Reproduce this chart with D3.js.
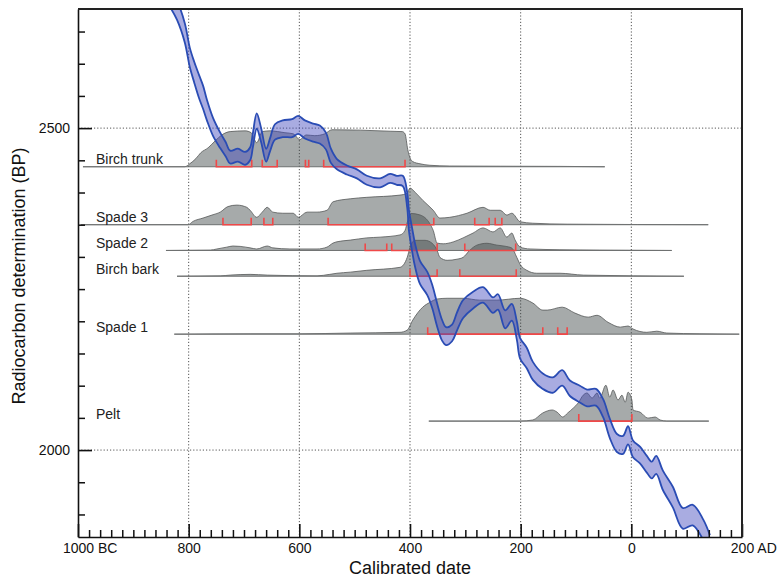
<!DOCTYPE html>
<html lang="en">
<head>
<meta charset="UTF-8">
<title>Radiocarbon calibration</title>
<script src="https://d3js.org/d3.v7.min.js"></script>
<style>
    body {
        margin: 0;
        background: #fff;
        font-family: "Liberation Sans", Arial, sans-serif;
    }
</style>
</head>
<body>
<div id="chart"></div>
<script>
    // samples: name, measured radiocarbon age (BP) = baseline of each distribution
    const sampleNames = ["Birch trunk", "Spade 3", "Spade 2", "Birch bark", "Spade 1", "Pelt"];
    const sampleBP = [2440, 2350, 2310, 2270, 2180, 2045];

    // calibrated probability, [calendar year, relative density]
    const birchTrunkProb = [[-991,0],[-807,0],[-798,0.08],[-787,0.22],[-778,0.38],[-765,0.51],[-752,0.7],[-740,0.86],[-725,0.95],[-698,0.97],[-687,0.92],[-677,0.65],[-667,0.95],[-653,0.97],[-626,0.92],[-611,0.89],[-599,0.73],[-588,0.86],[-572,0.84],[-554,0.89],[-541,1.0],[-490,0.99],[-436,0.96],[-414,0.95],[-409,0.89],[-404,0.46],[-400,0.24],[-395,0.14],[-382,0.08],[-364,0.04],[-328,0.02],[-237,0.015],[-129,0.01],[-48,0]];
    const spade3Prob = [[-995,0],[-801,0],[-792,0.09],[-774,0.18],[-758,0.26],[-743,0.34],[-729,0.49],[-713,0.53],[-695,0.47],[-689,0.39],[-677,0.2],[-667,0.34],[-658,0.47],[-648,0.34],[-630,0.31],[-611,0.31],[-602,0.2],[-586,0.34],[-568,0.34],[-550,0.39],[-539,0.62],[-508,0.7],[-478,0.74],[-418,0.8],[-405,0.85],[-400,0.99],[-391,0.88],[-377,0.66],[-358,0.39],[-346,0.18],[-328,0.2],[-297,0.31],[-268,0.47],[-255,0.39],[-237,0.39],[-225,0.26],[-216,0.31],[-201,0.08],[-178,0.04],[-116,0.015],[139,0]];
    const spade2Prob = [[-841,0],[-761,0.01],[-749,0.04],[-731,0.09],[-720,0.12],[-707,0.11],[-689,0.07],[-677,0.04],[-658,0.12],[-648,0.07],[-617,0.04],[-568,0.04],[-550,0.09],[-539,0.2],[-521,0.26],[-508,0.28],[-478,0.34],[-454,0.36],[-418,0.42],[-409,0.54],[-404,0.81],[-398,1.0],[-382,0.96],[-364,0.72],[-358,0.54],[-351,0.2],[-340,0.18],[-322,0.23],[-304,0.34],[-286,0.47],[-268,0.61],[-250,0.5],[-237,0.61],[-225,0.36],[-216,0.47],[-210,0.28],[-201,0.09],[-183,0.04],[-129,0.02],[-57,0.01],[73,0]];
    const birchBarkProb = [[-821,0],[-743,0.01],[-725,0.03],[-689,0.05],[-658,0.03],[-568,0.01],[-545,0.05],[-532,0.08],[-508,0.11],[-478,0.16],[-418,0.24],[-405,0.51],[-400,0.78],[-391,0.97],[-373,0.97],[-360,0.89],[-351,0.7],[-346,0.51],[-333,0.43],[-315,0.46],[-304,0.51],[-292,0.7],[-279,0.84],[-261,0.89],[-243,0.84],[-228,0.81],[-216,0.76],[-207,0.51],[-201,0.32],[-189,0.16],[-171,0.08],[-129,0.08],[-87,0.03],[95,0]];
    const spade1Prob = [[-826,0],[-689,0.01],[-599,0.01],[-508,0.03],[-418,0.05],[-405,0.11],[-395,0.38],[-377,0.73],[-364,0.86],[-351,0.95],[-333,0.97],[-304,0.97],[-274,0.92],[-243,0.92],[-201,0.97],[-178,0.84],[-160,0.65],[-152,0.65],[-125,0.73],[-102,0.57],[-78,0.46],[-62,0.51],[-42,0.32],[-20,0.19],[-6,0.22],[3,0.14],[28,0.05],[46,0.08],[64,0.03],[124,0.01],[195,0]];
    const peltProb = [[-366,0],[-201,0],[-178,0.03],[-160,0.22],[-143,0.3],[-134,0.24],[-124,0.11],[-115,0.22],[-105,0.35],[-96,0.49],[-87,0.7],[-80,0.76],[-71,0.62],[-62,0.76],[-57,0.62],[-46,0.97],[-39,0.65],[-33,0.84],[-24,0.57],[-17,0.7],[-11,0.51],[-6,0.78],[1,0.57],[3,0.3],[16,0.24],[30,0.08],[43,0.11],[52,0.03],[64,0],[140,0]];
    const sampleProbs = [birchTrunkProb, spade3Prob, spade2Prob, birchBarkProb, spade1Prob, peltProb];

    // 95% ranges, [from, to]
    const sampleRanges = [
        [[-750,-686],[-667,-640],[-589,-583],[-556,-409]],
        [[-738,-687],[-664,-648],[-548,-357],[-283,-257],[-246,-234]],
        [[-481,-442],[-433,-351],[-301,-209]],
        [[-400,-351],[-310,-208]],
        [[-368,-160],[-133,-116]],
        [[-95,1]]
    ];

    // calibration curve: year, BP, 1 sigma
    const curveYear = [-835,-821,-807,-798,-790,-781,-774,-767,-756,-743,-733,-725,-711,-698,-689,-684,-677,-669,-660,-653,-644,-630,-613,-602,-590,-575,-563,-552,-543,-532,-514,-496,-478,-454,-436,-424,-413,-405,-402,-396,-391,-382,-369,-360,-351,-342,-335,-324,-315,-304,-286,-268,-250,-241,-228,-216,-207,-201,-189,-178,-160,-142,-125,-111,-93,-80,-64,-51,-39,-26,-15,-6,3,16,28,37,45,57,75,93,111,130,142];
    const curveBP = [2705,2683,2648,2610,2587,2564,2548,2528,2502,2481,2467,2455,2458,2453,2460,2481,2511,2489,2458,2474,2494,2499,2500,2505,2498,2493,2490,2480,2457,2444,2435,2429,2419,2415,2422,2419,2418,2388,2357,2326,2303,2276,2259,2239,2210,2186,2177,2182,2200,2219,2233,2241,2225,2230,2203,2214,2186,2158,2143,2123,2107,2101,2112,2096,2087,2081,2082,2065,2034,2011,2008,2023,2002,1992,1978,1969,1977,1953,1927,1894,1899,1876,1852];
    const curveErr = [15,15,15,15,16,18,18,16,14,12,11,10,10,10,10,11,12,11,10,10,12,13,14,14,14,14,14,13,11,8,7,7,7,7,7,7,8,12,16,18,18,18,18,18,18,16,14,13,14,14,13,12,12,12,14,13,14,16,16,14,12,12,12,12,13,13,13,14,15,14,14,14,13,13,13,13,14,15,16,16,16,16,16];

    const xTicks = [-1000, -800, -600, -400, -200, 0, 200];
    const xTickLabels = ["1000 BC", "800", "600", "400", "200", "0", "200 AD"];
    const yTicks = [2000, 2500];

    const W = 784, H = 577;
    const margin = { top: 9, right: 42, bottom: 40, left: 78 };
    const font = '"Liberation Sans", Arial, sans-serif';

    const x = d3.scaleLinear().domain([-1000, 200]).range([margin.left, W - margin.right]);
    const y = d3.scaleLinear().domain([1865, 2685]).range([H - margin.bottom, margin.top]);
    const ridgeH = d3.scaleLinear().domain([0, 1]).range([0, 37]);

    const svg = d3.select("#chart").append("svg")
        .attr("width", W)
        .attr("height", H);

    svg.append("clipPath").attr("id", "plot-clip")
        .append("rect")
        .attr("x", margin.left).attr("y", margin.top)
        .attr("width", W - margin.left - margin.right)
        .attr("height", H - margin.top - margin.bottom);

    // dotted grid
    const grid = svg.append("g")
        .attr("stroke", "#555")
        .attr("stroke-width", 1)
        .attr("stroke-dasharray", "1.2,2");
    grid.selectAll(".vgrid")
        .data(xTicks.filter(v => v > -1000 && v < 200))
        .join("line")
        .attr("x1", d => x(d)).attr("x2", d => x(d))
        .attr("y1", y.range()[1]).attr("y2", y.range()[0]);
    grid.selectAll(".hgrid")
        .data(yTicks)
        .join("line")
        .attr("x1", x.range()[0]).attr("x2", x.range()[1])
        .attr("y1", d => y(d)).attr("y2", d => y(d));

    // distributions
    sampleProbs.forEach((prob, i) => {
        const base = y(sampleBP[i]);
        const area = d3.area()
            .x(d => x(d[0]))
            .y0(base)
            .y1(d => base - ridgeH(d[1]))
            .curve(d3.curveMonotoneX);
        const top = d3.line()
            .x(d => x(d[0]))
            .y(d => base - ridgeH(d[1]))
            .curve(d3.curveMonotoneX);

        svg.append("path").datum(prob)
            .attr("d", area)
            .attr("fill", "rgb(58,66,66)")
            .attr("fill-opacity", 0.45);
        svg.append("path").datum(prob)
            .attr("d", top)
            .attr("fill", "none")
            .attr("stroke", "#555858")
            .attr("stroke-width", 0.8);
        svg.append("line")
            .attr("x1", x(prob[0][0]))
            .attr("x2", x(prob[prob.length - 1][0]))
            .attr("y1", base).attr("y2", base)
            .attr("stroke", "#6e7070")
            .attr("stroke-width", 1);
    });

    // ranges
    sampleRanges.forEach((ranges, i) => {
        const base = y(sampleBP[i]);
        svg.append("g")
            .selectAll("path")
            .data(ranges)
            .join("path")
            .attr("d", r => `M${x(r[0])},${base - 7}V${base}H${x(r[1])}V${base - 7}`)
            .attr("fill", "none")
            .attr("stroke", "#f04848")
            .attr("stroke-width", 1.6);
    });

    // calibration curve
    const cal = curveYear.map((yr, i) => ({ year: yr, bp: curveBP[i], err: curveErr[i] }));
    const calG = svg.append("g").attr("clip-path", "url(#plot-clip)");
    calG.append("path").datum(cal)
        .attr("d", d3.area()
            .x(d => x(d.year))
            .y0(d => y(d.bp - d.err))
            .y1(d => y(d.bp + d.err))
            .curve(d3.curveCatmullRom))
        .attr("fill", "rgb(64,72,188)")
        .attr("fill-opacity", 0.45);
    [-1, 1].forEach(s => {
        calG.append("path").datum(cal)
            .attr("d", d3.line()
                .x(d => x(d.year))
                .y(d => y(d.bp + s * d.err))
                .curve(d3.curveCatmullRom))
            .attr("fill", "none")
            .attr("stroke", "#2a4cb4")
            .attr("stroke-width", 1.8);
    });

    // sample labels
    svg.append("g")
        .selectAll("text")
        .data(sampleNames)
        .join("text")
        .attr("x", x(-1000) + 18)
        .attr("y", (d, i) => y(sampleBP[i]) - 2.5)
        .attr("font-family", font)
        .attr("font-size", 14)
        .attr("fill", "#222")
        .text(d => d);

    // axes
    const bottomY = y.range()[0];
    const xMinor = d3.range(-1000, 201, 20).filter(v => v % 200 !== 0);
    const yMinor = d3.range(1900, 2685, 50).filter(v => v % 500 !== 0);

    svg.append("g")
        .attr("transform", `translate(0,${bottomY})`)
        .call(d3.axisBottom(x).tickValues(xMinor).tickSize(-7).tickFormat(""))
        .call(g => g.select(".domain").remove())
        .selectAll("line").attr("stroke", "#111").attr("stroke-width", 1.5);

    const xAxisG = svg.append("g")
        .attr("transform", `translate(0,${bottomY})`)
        .call(d3.axisBottom(x)
            .tickValues(xTicks)
            .tickSize(-13)
            .tickSizeOuter(0)
            .tickPadding(6)
            .tickFormat((d, i) => xTickLabels[i]))
        .attr("font-family", font)
        .attr("font-size", 14)
        .attr("color", "#111");
    xAxisG.selectAll("line").attr("stroke-width", 1.6);
    xAxisG.select(".domain").attr("stroke-width", 1.6);
    xAxisG.selectAll(".tick text").each(function (d, i) {
        const label = xTickLabels[i];
        const num = label.split(" ")[0];
        if (num !== label) {
            const t = d3.select(this).text(num);
            const w = this.getComputedTextLength();
            t.text(label).attr("text-anchor", "start").attr("x", -w / 2);
        }
    });

    svg.append("g")
        .attr("transform", `translate(${margin.left},0)`)
        .call(d3.axisLeft(y).tickValues(yMinor).tickSize(-7).tickFormat(""))
        .call(g => g.select(".domain").remove())
        .selectAll("line").attr("stroke", "#111").attr("stroke-width", 1.5);

    const yAxisG = svg.append("g")
        .attr("transform", `translate(${margin.left},0)`)
        .call(d3.axisLeft(y)
            .tickValues(yTicks)
            .tickSize(-14)
            .tickSizeOuter(0)
            .tickPadding(8)
            .tickFormat(d3.format("d")))
        .attr("font-family", font)
        .attr("font-size", 14)
        .attr("color", "#111");
    yAxisG.selectAll("line").attr("stroke-width", 1.6);
    yAxisG.select(".domain").attr("stroke-width", 1.6);

    // frame top and right
    svg.append("path")
        .attr("d", `M${x.range()[0]},${y.range()[1]}H${x.range()[1]}V${y.range()[0]}`)
        .attr("fill", "none")
        .attr("stroke", "#222")
        .attr("stroke-width", 2);

    // axis titles
    svg.append("text")
        .attr("x", (x.range()[0] + x.range()[1]) / 2)
        .attr("y", 574)
        .attr("text-anchor", "middle")
        .attr("font-family", font)
        .attr("font-size", 18)
        .attr("fill", "#111")
        .text("Calibrated date");

    svg.append("text")
        .attr("transform", "translate(25,276) rotate(-90)")
        .attr("text-anchor", "middle")
        .attr("font-family", font)
        .attr("font-size", 18)
        .attr("fill", "#111")
        .text("Radiocarbon determination (BP)");
</script>
</body>
</html>
